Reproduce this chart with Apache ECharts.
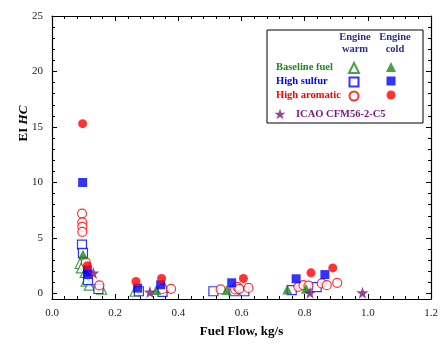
<!DOCTYPE html>
<html><head><meta charset="utf-8">
<script src="https://cdn.jsdelivr.net/npm/echarts@6/dist/echarts.min.js"></script>
<style>html,body{margin:0;padding:0;background:#fff}#c{width:441px;height:349px}</style>
</head><body><div id="c"></div>
<script>
// ---- data (fuel flow kg/s, EI HC) ----
const baselineWarm = [[0.089,2.7],[0.093,2.3],[0.105,1.9],[0.108,1.1],[0.118,0.75],[0.157,0.38],[0.263,0.2],[0.355,0.55]];
const baselineCold = [[0.098,3.5],[0.33,0.3],[0.553,0.3],[0.745,0.36],[0.804,0.42]];
const sulfurWarm = [[0.095,4.4],[0.098,3.65],[0.114,1.2],[0.147,0.4],[0.275,0.2],[0.35,0.15],[0.511,0.2],[0.575,0.2],[0.609,0.2],[0.759,0.3],[0.838,0.57]];
const sulfurCold = [[0.097,10.0],[0.112,2.1],[0.113,1.7],[0.271,0.48],[0.344,0.78],[0.569,0.96],[0.773,1.32],[0.864,1.7]];
const aromaticWarm = [[0.095,7.2],[0.096,6.4],[0.096,6.0],[0.096,5.55],[0.107,2.8],[0.15,0.72],[0.35,0.4],[0.377,0.42],[0.534,0.36],[0.58,0.36],[0.587,0.6],[0.593,0.42],[0.622,0.5],[0.78,0.6],[0.796,0.75],[0.812,0.7],[0.854,0.9],[0.87,0.75],[0.903,0.96]];
const aromaticCold = [[0.097,15.3],[0.112,2.5],[0.266,1.08],[0.347,1.35],[0.606,1.35],[0.82,1.86],[0.889,2.3]];
const icao = [[0.131,1.85],[0.31,0.12],[0.817,0.06],[0.983,0.06]];
const yMajor = [0,5,10,15,20,25];
const yMinor = [0,1,2,3,4,5,6,7,8,9,10,11,12,13,14,15,16,17,18,19,20,21,22,23,24,25];
const legendRows = ['Baseline fuel','High sulfur','High aromatic'];
const icaoLabel = 'ICAO CFM56-2-C5';

const GREEN='#1b8a1b', BLUE='#0000ff', RED='#ff0000', PURPLE='#7a177a', NAVY='#2e2e8a';
const FONT='Liberation Serif';

function xAx(pos, labels){
  return {type:'value', position:pos, min:0, max:1.2, interval:0.2,
    axisLine:{show:true,onZero:false,lineStyle:{color:'#000',width:1.2}},
    axisTick:{show:true,inside:true,length:5,lineStyle:{color:'#000'}},
    minorTick:{show:true,splitNumber:5,length:3,lineStyle:{color:'#000'}},
    splitLine:{show:false}, minorSplitLine:{show:false},
    axisLabel:{show:labels,margin:9,fontFamily:FONT,fontSize:11,color:'#222',formatter:v=>v.toFixed(1)},
    name: labels? 'Fuel Flow, kg/s':'', nameLocation:'middle', nameGap:26, nameMoveOverlap:false,
    nameTextStyle:{fontFamily:FONT,fontWeight:'bold',fontSize:13,color:'#000'}};
}
function yAx(pos, labels, minor){
  return {type:'value', position:pos, min:-0.5, max:25,
    axisLine:{show:!minor,onZero:false,lineStyle:{color:'#000',width:1.2}},
    axisTick:{show:true,inside:true,length:minor?3:5,customValues:minor?yMinor:yMajor,lineStyle:{color:'#000'}},
    splitLine:{show:false},
    axisLabel:{show:labels,customValues:yMajor,margin:9,fontFamily:FONT,fontSize:11,color:'#222'},
    name: labels? '{a|EI }{b|HC}':'', nameLocation:'middle', nameGap:22, nameRotate:90, nameMoveOverlap:false,
    nameTextStyle:{padding:[0,0,0,68],rich:{a:{fontFamily:FONT,fontWeight:'bold',fontSize:13,color:'#000'},b:{fontFamily:FONT,fontWeight:'bold',fontStyle:'italic',fontSize:13,color:'#000'}}}};
}
function sc(name,data,symbol,color,filled,size){
  return {type:'scatter',name:name,data:data,symbol:symbol,symbolSize:size,xAxisIndex:0,yAxisIndex:0,
    itemStyle:filled?{color:color,borderColor:color,borderWidth:0}:{color:'#fff',borderColor:color,borderWidth:1.2},z:3};
}
const STAR='path://M0,-10 L2.35,-3.24 L9.51,-3.09 L3.8,1.24 L5.88,8.09 L0,4 L-5.88,8.09 L-3.8,1.24 L-9.51,-3.09 L-2.35,-3.24 Z';
const series=[
  sc('Baseline fuel warm',baselineWarm,'triangle',GREEN,false,10),
  sc('High sulfur warm',sulfurWarm,'rect',BLUE,false,9),
  sc('High aromatic warm',aromaticWarm,'circle',RED,false,9),
  sc('Baseline fuel cold',baselineCold,'triangle',GREEN,true,10),
  sc('High sulfur cold',sulfurCold,'rect',BLUE,true,9),
  sc('High aromatic cold',aromaticCold,'circle',RED,true,9),
  sc(icaoLabel,icao,STAR,PURPLE,true,12)
];
function lg(cx,cy,name,w){
  return {show:true,left:cx-w/2,top:cy-w/2,data:[name],itemWidth:w,itemHeight:w,itemGap:0,
    formatter:()=>'',selectedMode:false,padding:0,z:6,textStyle:{fontSize:1,padding:0}};
}
const chart=echarts.init(document.getElementById('c'),null,{renderer:'canvas'});
const ts=(c)=>({fontFamily:FONT,fontWeight:'bold',fontSize:10.5,fill:c});
chart.setOption({
  animation:false,
  grid:{left:52,right:10,top:16,bottom:50},
  xAxis:[xAx('bottom',true),xAx('top',false)],
  yAxis:[yAx('left',true,false),yAx('right',false,false),yAx('left',false,true),yAx('right',false,true)],
  legend:[lg(353,67,'Baseline fuel warm',10),lg(353,81,'High sulfur warm',9),lg(353,95,'High aromatic warm',9),
          lg(391,67,'Baseline fuel cold',10),lg(391,81,'High sulfur cold',9),lg(391,95,'High aromatic cold',9),
          lg(280,114,icaoLabel,11)],
  graphic:[
    {type:'rect',shape:{x:267,y:30,width:156,height:93},style:{fill:'#fff',stroke:'#000',lineWidth:1},z:5},
    {type:'text',x:355,y:43,style:Object.assign({text:'Engine\nwarm',align:'center',verticalAlign:'middle',lineHeight:12},ts(NAVY)),z:6},
    {type:'text',x:395,y:43,style:Object.assign({text:'Engine\ncold',align:'center',verticalAlign:'middle',lineHeight:12},ts(NAVY)),z:6},
    {type:'text',x:276,y:67,style:Object.assign({text:legendRows[0],verticalAlign:'middle'},ts(GREEN)),z:6},
    {type:'text',x:276,y:81,style:Object.assign({text:legendRows[1],verticalAlign:'middle'},ts(BLUE)),z:6},
    {type:'text',x:276,y:95,style:Object.assign({text:legendRows[2],verticalAlign:'middle'},ts(RED)),z:6},
    {type:'text',x:296,y:114,style:Object.assign({text:icaoLabel,verticalAlign:'middle'},ts(PURPLE)),z:6}
  ],
  series:series
});
</script></body></html>
